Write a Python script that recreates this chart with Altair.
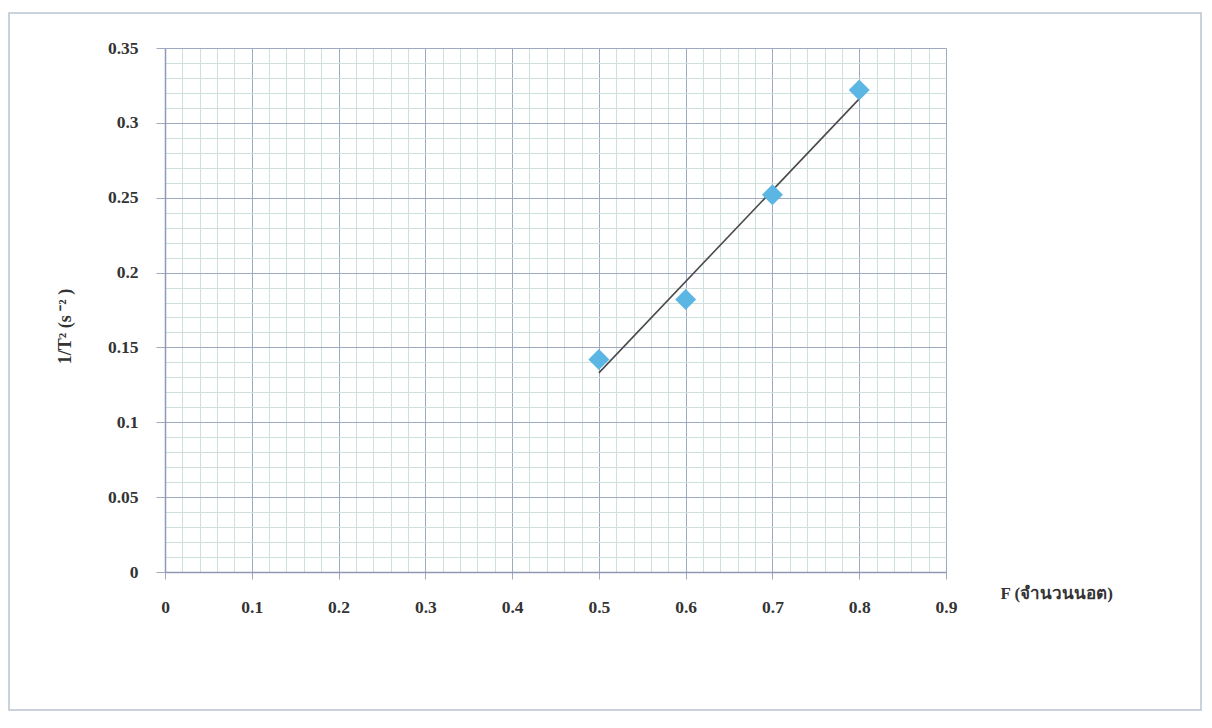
import altair as alt
import pandas as pd

# Data
F = [0.5, 0.6, 0.7, 0.8]
inv_T2 = [0.142, 0.182, 0.252, 0.322]

x_ticks = [round(i * 0.02, 2) for i in range(46)]
y_ticks = [round(i * 0.01, 2) for i in range(36)]

df = pd.DataFrame({"F": F, "inv": inv_T2})

FONT = "Liberation Serif"
MAJOR = "#9ea9c2"
MINOR = "#cfe0dc"

x_scale = alt.Scale(domain=[0, 0.9], nice=False, zero=False)
y_scale = alt.Scale(domain=[0, 0.35], nice=False, zero=False)

x_major = "round(datum.value * 100) % 10 === 0"
y_major = "round(datum.value * 100) % 5 === 0"

x_axis = alt.Axis(
    values=x_ticks,
    tickCount=200,
    labelExpr=f"{x_major} ? format(datum.value, '~g') : ''",
    grid=True,
    gridColor={"condition": {"test": x_major, "value": MAJOR}, "value": MINOR},
    gridWidth=1,
    tickColor=MAJOR,
    tickSize={"condition": {"test": x_major, "value": 7}, "value": 0},
    domainColor="#8f9ab2",
    domainWidth=1.5,
    labelFont=FONT,
    labelFontWeight="bold",
    labelFontSize=17.5,
    labelColor="#333333",
    labelPadding=19,
    labelFlush=False,
    labelOverlap=False,
    title="F (จำนวนนอต)",
    titleFont=FONT,
    titleFontWeight="bold",
    titleFontSize=17,
    titleColor="#333333",
    titleAnchor="start",
    titleAlign="left",
    titleBaseline="middle",
    titleX=835,
    titleY=21,
)

y_axis = alt.Axis(
    values=y_ticks,
    tickCount=200,
    labelExpr=f"{y_major} ? format(datum.value, '~g') : ''",
    grid=True,
    gridColor={"condition": {"test": y_major, "value": MAJOR}, "value": MINOR},
    gridWidth=1,
    tickColor=MAJOR,
    tickSize={"condition": {"test": y_major, "value": 9}, "value": 0},
    domainColor="#8f9ab2",
    domainWidth=1.5,
    labelFont=FONT,
    labelFontWeight="bold",
    labelFontSize=17.5,
    labelColor="#333333",
    labelPadding=18,
    labelFlush=False,
    labelOverlap=False,
    title="1/T² (s ⁻² )",
    titleFont=FONT,
    titleFontWeight="bold",
    titleFontSize=18,
    titleColor="#333333",
    titleAngle=270,
    titleX=-100,
    titleY=278,
    titleAlign="center",
    titleBaseline="middle",
)

base = alt.Chart(df)

points = base.mark_point(
    shape="diamond", filled=True, size=440, color="#5cb6e4", opacity=1
).encode(
    x=alt.X("F:Q", scale=x_scale, axis=x_axis),
    y=alt.Y("inv:Q", scale=y_scale, axis=y_axis),
)

trend = base.transform_regression("F", "inv").mark_line(
    color="#4a4a4a", strokeWidth=1.6
).encode(
    x=alt.X("F:Q", scale=x_scale),
    y=alt.Y("inv:Q", scale=y_scale),
)

frame = alt.Chart(pd.DataFrame({"a": [0]})).mark_rect(
    fill=None, stroke="#b9c3cf", strokeWidth=1.5, clip=False
).encode(
    x=alt.value(-156), x2=alt.value(1036),
    y=alt.value(-35), y2=alt.value(662),
)

chart = alt.layer(frame, trend, points).properties(
    width=781,
    height=524,
    padding={"left": 157, "top": 40, "right": 258, "bottom": 140},
    autosize=alt.AutoSizeParams(type="none"),
).configure_view(
    stroke=MAJOR, strokeWidth=1
).configure(background="white")

chart.save("out.html", embed_options={"renderer": "svg", "actions": False})
